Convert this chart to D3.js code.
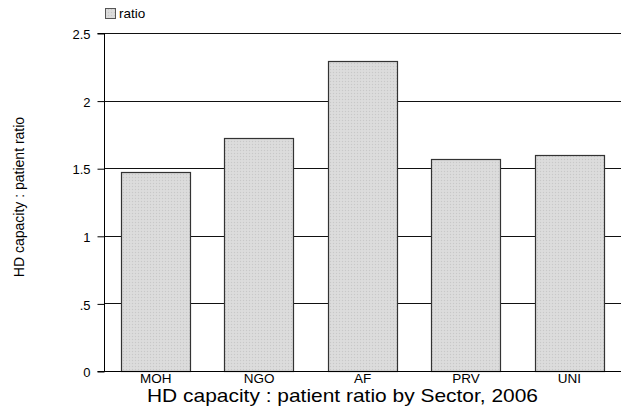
<!DOCTYPE html>
<html><head><meta charset="utf-8">
<script src="https://cdn.jsdelivr.net/npm/d3@7"></script>
<style>body{margin:0;background:#fff}svg{display:block;font-family:"Liberation Sans",Arial,sans-serif}</style>
</head><body>
<script>
const categories = ["MOH","NGO","AF","PRV","UNI"];
const ratio = [1.47,1.72,2.29,1.57,1.60];
const yTicks = [0,0.5,1,1.5,2,2.5];
const yTickLabels = ["0",".5","1","1.5","2","2.5"];

(function(){
const W=623,H=410, mLeft=104, mRight=621, mTop=33, mBottom=371;
const FONT="'Liberation Sans',Arial,sans-serif";
const svg=d3.select("body").append("svg").attr("width",W).attr("height",H);
const defs=svg.append("defs");
const pat=defs.append("pattern").attr("id","dots").attr("width",3).attr("height",3).attr("patternUnits","userSpaceOnUse");
pat.append("rect").attr("width",3).attr("height",3).attr("fill","#dadada");
pat.append("rect").attr("x",0).attr("y",0).attr("width",1).attr("height",1).attr("fill","#c8c8c8");
pat.append("rect").attr("x",1.5).attr("y",1.5).attr("width",1).attr("height",1).attr("fill","#e4e4e4");

const x=d3.scaleBand().domain(categories).range([mLeft,mRight]).paddingInner(0.33).paddingOuter(0.165);
const y=d3.scaleLinear().domain([0,2.5]).range([mBottom,mTop]);

// gridlines
svg.append("g").selectAll("line").data(yTicks.filter(d=>d>0)).join("line")
  .attr("x1",mLeft).attr("x2",mRight).attr("y1",d=>Math.round(y(d))+0.5).attr("y2",d=>Math.round(y(d))+0.5)
  .attr("stroke","#111").attr("stroke-width",1);

// bars
svg.append("g").selectAll("rect").data(categories).join("rect")
  .attr("x",d=>Math.round(x(d))+0.5).attr("width",Math.round(x.bandwidth()))
  .attr("y",(d,i)=>Math.round(y(ratio[i]))+0.5).attr("height",(d,i)=>Math.round(mBottom-y(ratio[i])))
  .attr("fill","url(#dots)").attr("stroke","#333").attr("stroke-width",1.2);

// y axis
const yAxis=d3.axisLeft(y).tickValues(yTicks).tickFormat((d,i)=>yTickLabels[i]).tickSize(7).tickPadding(7);
const gy=svg.append("g").attr("transform",`translate(${mLeft+0.5},0.5)`).call(yAxis);
gy.select(".domain").attr("stroke","#000").attr("d",`M-7,${mTop}H0V${mBottom}H-7`);
gy.selectAll(".tick line").attr("stroke","#000");
gy.selectAll(".tick text").attr("font-size",13).attr("fill","#000").attr("font-family",FONT).attr("dy","0.4em");

// x axis baseline
svg.append("line").attr("x1",mLeft).attr("x2",mRight).attr("y1",mBottom+0.5).attr("y2",mBottom+0.5).attr("stroke","#000");

// category labels
const xAxis=d3.axisBottom(x).tickSize(0).tickPadding(0);
const gx=svg.append("g").attr("transform",`translate(0,${mBottom})`).call(xAxis);
gx.select(".domain").remove();
gx.selectAll(".tick text").attr("font-size",13.5).attr("fill","#000").attr("font-family",FONT).attr("dy","0.9em");

// y title
svg.append("text").attr("transform",`translate(24,197) rotate(-90)`).attr("text-anchor","middle")
  .attr("font-size",14).attr("font-family",FONT).text("HD capacity : patient ratio");

// title
svg.append("text").attr("x",147).attr("y",402).attr("font-size",19).attr("font-family",FONT)
  .attr("textLength",391).attr("lengthAdjust","spacingAndGlyphs").text("HD capacity : patient ratio by Sector, 2006");

// legend
svg.append("rect").attr("x",105.5).attr("y",8.5).attr("width",10).attr("height",10).attr("fill","url(#dots)").attr("stroke","#555");
svg.append("text").attr("x",119).attr("y",18).attr("font-size",13.5).attr("font-family",FONT).text("ratio");
})();
</script>
</body></html>
